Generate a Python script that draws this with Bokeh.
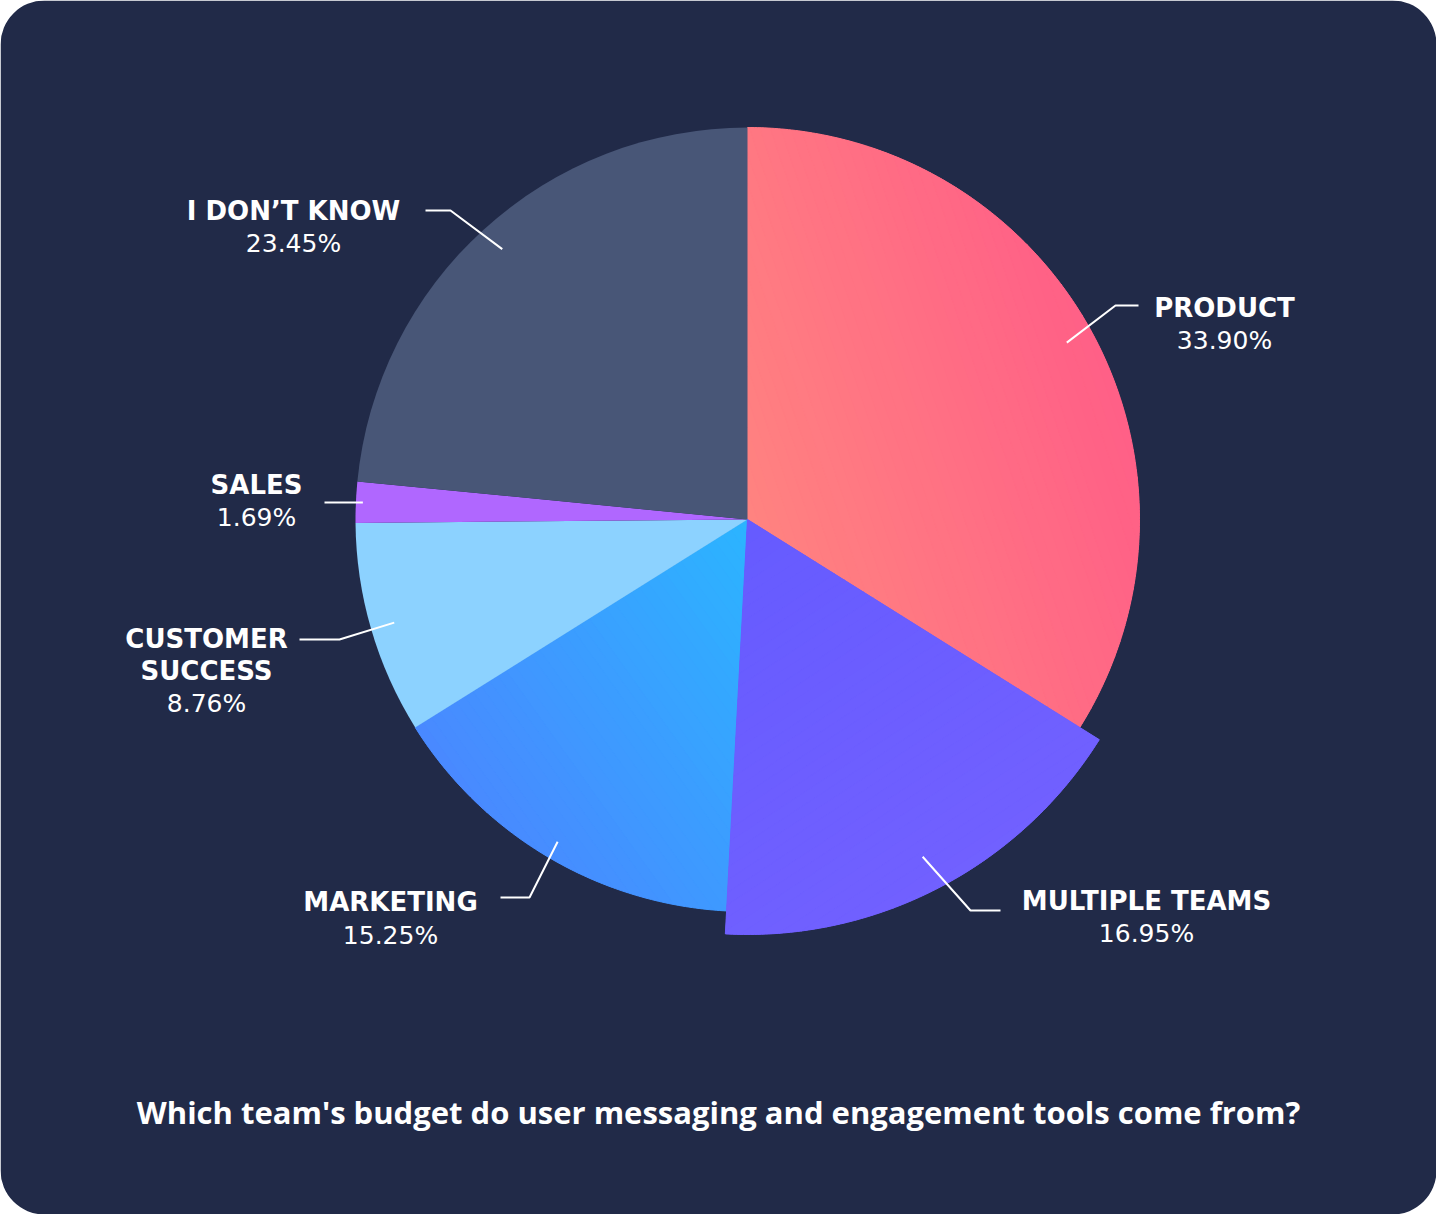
import math
from bokeh.plotting import figure
from bokeh.models import Range1d, BoxAnnotation, ColumnDataSource
from bokeh.core.properties import value
from bokeh.embed import file_html
from bokeh.resources import INLINE

# ---------------- data ----------------
categories = ["PRODUCT", "MULTIPLE TEAMS", "MARKETING", "CUSTOMER SUCCESS", "SALES", "I DON\u2019T KNOW"]
shares = [33.90, 16.95, 15.25, 8.76, 1.69, 23.45]
pct_labels = ["33.90%", "16.95%", "15.25%", "8.76%", "1.69%", "23.45%"]
title_text = "Which team's budget do user messaging and engagement tools come from?"

# ---------------- style ----------------
slice_colors = ["#ff7282", "#6c5dff", "#3a9bff", "#8cd2ff", "#b067ff", "#485677"]
# optional linear gradients: (start point, end point, start colour, end colour) in reference pixels
gradients = {
    "PRODUCT": ((755, 527), (1130, 400), (0xff, 0x83, 0x80), (0xff, 0x5f, 0x87)),
    "MARKETING": ((755, 527), (430, 760), (0x2b, 0xb5, 0xff), (0x4a, 0x88, 0xff)),
    "MULTIPLE TEAMS": ((755, 527), (1000, 900), (0x66, 0x5b, 0xff), (0x72, 0x61, 0xff)),
}
NAVY = "#212a48"
HIGHLIGHT = "MULTIPLE TEAMS"
LABEL_FONT = "DejaVu Sans"
TITLE_FONT = "Open Sans"

W, H, M = 1452, 1230, 8


def Y(v):
    return H - v


CX, CY = 755, Y(527)
R, R_HI = 392, 415

# label layout (reference pixel coordinates; y = vertical centre of each text line)
layout = {
    "PRODUCT": dict(lines=["PRODUCT"], x=1232, ymid=[315.5], pct_mid=347.5,
                    lead_r=365, elbow=(1123, 313), end=1146),
    "MULTIPLE TEAMS": dict(lines=["MULTIPLE TEAMS"], x=1154, ymid=[908.5], pct_mid=940.5,
                           lead_r=380, elbow=(978, 918), end=1008),
    "MARKETING": dict(lines=["MARKETING"], x=398, ymid=[909.5], pct_mid=942.5,
                      lead_r=374, elbow=(537, 905), end=508),
    "CUSTOMER SUCCESS": dict(lines=["CUSTOMER", "SUCCESS"], x=214, ymid=[646, 678], pct_mid=710.5,
                             lead_r=368, elbow=(347, 647), end=307),
    "SALES": dict(lines=["SALES"], x=264, ymid=[492.5], pct_mid=524.5,
                  lead_r=385, elbow=None, end=332),
    "I DON\u2019T KNOW": dict(lines=["I DON\u2019T KNOW"], x=301, ymid=[218.5], pct_mid=251,
                              lead_r=365, elbow=(458, 218), end=433),
}
TITLE_X, TITLE_MID = 726, 1119.5

# ---------------- figure ----------------
p = figure(width=W - 2 * M, height=H - 2 * M,
           x_range=Range1d(M, W - M), y_range=Range1d(M, H - M),
           output_backend="svg", toolbar_location=None,
           x_axis_location=None, y_axis_location=None, min_border=0)
p.grid.visible = False
p.outline_line_color = None
p.background_fill_color = "white"
p.border_fill_color = "white"

card = BoxAnnotation(left=M, right=W - M, bottom=M, top=H - M,
                     fill_color=NAVY, fill_alpha=1.0, line_color=None,
                     border_radius=44, level="underlay")
p.add_layout(card)

# slice angles
total = sum(shares)
starts, ends, radii, mids = [], [], [], []
cum = 0.0
for cat, s in zip(categories, shares):
    a0 = math.pi / 2 - 2 * math.pi * cum / total
    cum += s
    a1 = math.pi / 2 - 2 * math.pi * cum / total
    starts.append(a0)
    ends.append(a1)
    mids.append((a0 + a1) / 2)
    radii.append(R_HI if cat == HIGHLIGHT else R)


def slice_polygon(a0, a1, r):
    n = max(8, int(abs(a0 - a1) / math.radians(0.5)))
    pts = [(CX, CY)]
    for k in range(n + 1):
        a = a0 + (a1 - a0) * k / n
        pts.append((CX + r * math.cos(a), CY + r * math.sin(a)))
    return pts


def clip_half(poly, u, o, t, keep_ge):
    def val(pt):
        return (pt[0] - o[0]) * u[0] + (pt[1] - o[1]) * u[1] - t

    def inside(pt):
        v = val(pt)
        return v >= 0 if keep_ge else v <= 0

    out = []
    n = len(poly)
    for k in range(n):
        cur, nxt = poly[k], poly[(k + 1) % n]
        ci, ni = inside(cur), inside(nxt)
        if ci:
            out.append(cur)
        if ci != ni:
            vc, vn = val(cur), val(nxt)
            f = vc / (vc - vn)
            out.append((cur[0] + f * (nxt[0] - cur[0]), cur[1] + f * (nxt[1] - cur[1])))
    return out


def hexcol(c):
    return "#%02x%02x%02x" % tuple(int(round(v)) for v in c)


order = sorted(range(len(categories)), key=lambda i: categories[i] == HIGHLIGHT)
for i in order:
    cat = categories[i]
    src = ColumnDataSource(dict(start=[starts[i]], end=[ends[i]], radius=[radii[i]],
                                color=[slice_colors[i]], name=[cat]))
    p.wedge(x=CX, y=CY, radius="radius", start_angle="start", end_angle="end",
            direction="clock", fill_color="color", line_color=None, source=src)
    if cat in gradients:
        (gx0, gy0), (gx1, gy1), c0, c1 = gradients[cat]
        o = (gx0, Y(gy0))
        dx, dy = gx1 - gx0, Y(gy1) - Y(gy0)
        L = math.hypot(dx, dy)
        u = (dx / L, dy / L)
        poly = slice_polygon(starts[i], ends[i], radii[i])
        proj = [(q[0] - o[0]) * u[0] + (q[1] - o[1]) * u[1] for q in poly]
        tmin, tmax = min(proj), max(proj)
        nb = 40
        bxs, bys, bcs = [], [], []
        for b in range(nb):
            t0 = tmin + (tmax - tmin) * b / nb
            t1 = tmin + (tmax - tmin) * (b + 1) / nb
            band = clip_half(poly, u, o, t0, True)
            if len(band) < 3:
                continue
            band = clip_half(band, u, o, t1, False)
            if len(band) < 3:
                continue
            f = min(1.0, max(0.0, ((t0 + t1) / 2) / L))
            bcs.append(hexcol([c0[k] + (c1[k] - c0[k]) * f for k in range(3)]))
            bxs.append([q[0] for q in band])
            bys.append([q[1] for q in band])
        p.patches(xs=bxs, ys=bys, fill_color=bcs, line_color=bcs, line_width=1)

# leader lines
xs, ys = [], []
for i, cat in enumerate(categories):
    Lo = layout[cat]
    sx = CX + Lo["lead_r"] * math.cos(mids[i])
    sy = CY + Lo["lead_r"] * math.sin(mids[i])
    if Lo["elbow"] is None:
        xs.append([sx, Lo["end"]])
        ys.append([sy, sy])
    else:
        ex, ey = Lo["elbow"]
        xs.append([sx, ex, Lo["end"]])
        ys.append([sy, Y(ey), Y(ey)])
p.multi_line(xs=xs, ys=ys, line_color="white", line_width=2)

# labels
nx, ny, nt = [], [], []
px_, py_, pt = [], [], []
for i, cat in enumerate(categories):
    Lo = layout[cat]
    for line, ym in zip(Lo["lines"], Lo["ymid"]):
        nx.append(Lo["x"]); ny.append(Y(ym)); nt.append(line)
    px_.append(Lo["x"]); py_.append(Y(Lo["pct_mid"])); pt.append(pct_labels[i])

p.text(x=nx, y=ny, text=nt, text_font=value(LABEL_FONT), text_font_style="bold",
       text_font_size="26px", text_color="white", text_align="center",
       text_baseline="middle")
p.text(x=px_, y=py_, text=pt, text_font=value(LABEL_FONT), text_font_style="normal",
       text_font_size="25px", text_color="white", text_align="center",
       text_baseline="middle")

# title
p.text(x=[TITLE_X], y=[Y(TITLE_MID)], text=[title_text], text_font=value(TITLE_FONT),
       text_font_style="bold", text_font_size="31px", text_color="white",
       text_align="center", text_baseline="middle")

open("out.html", "w").write(file_html(p, INLINE))
